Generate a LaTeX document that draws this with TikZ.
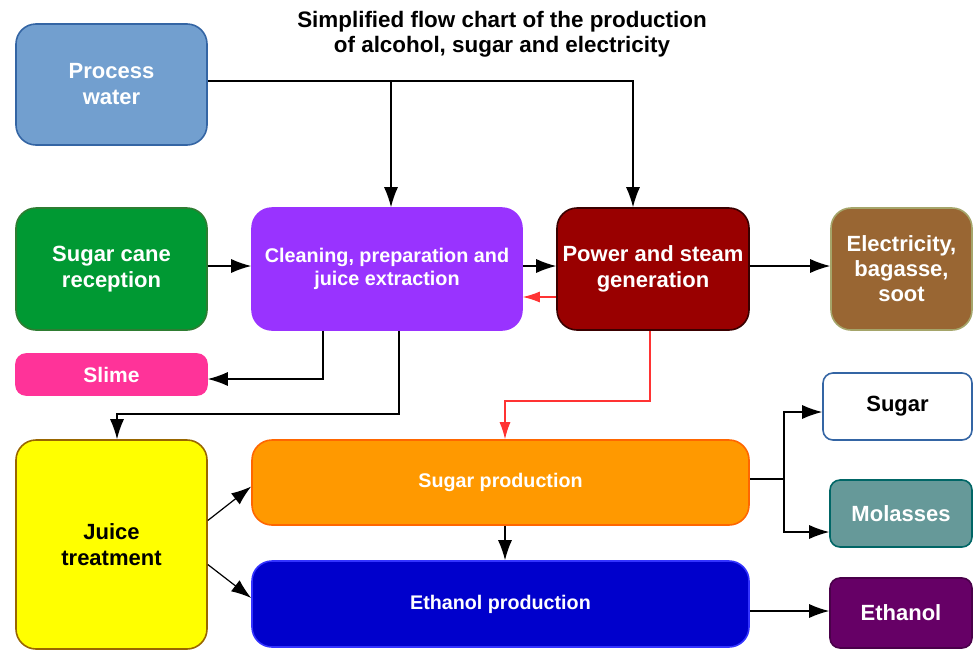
\documentclass[tikz,border=0pt]{standalone}
\usepackage{fontspec}
\setmainfont{Liberation Sans}
\usetikzlibrary{arrows.meta,calc}
\definecolor{pwfill}{HTML}{729FCF}
\definecolor{pwdraw}{HTML}{3465A4}
\definecolor{scfill}{HTML}{009933}
\definecolor{scdraw}{HTML}{2E7D32}
\definecolor{clfill}{HTML}{9933FF}
\definecolor{pofill}{HTML}{990000}
\definecolor{podraw}{HTML}{3A0000}
\definecolor{elfill}{HTML}{996633}
\definecolor{eldraw}{HTML}{A5A56A}
\definecolor{slfill}{HTML}{FF3399}
\definecolor{jufill}{HTML}{FFFF00}
\definecolor{judraw}{HTML}{996600}
\definecolor{spfill}{HTML}{FF9900}
\definecolor{spdraw}{HTML}{FF6600}
\definecolor{epfill}{HTML}{0000CC}
\definecolor{epdraw}{HTML}{3333FF}
\definecolor{mofill}{HTML}{669999}
\definecolor{modraw}{HTML}{006666}
\definecolor{etfill}{HTML}{660066}
\definecolor{etdraw}{HTML}{4A004A}
\definecolor{redline}{HTML}{FF3333}
\tikzset{
  box/.style={rounded corners=20pt, line width=1.6pt, inner sep=0pt, align=center,
    text=white, font=\bfseries\fontsize{22}{26}\selectfont},
  sbox/.style={box, rounded corners=10pt},
  arr/.style={line width=1.2pt, -{Latex[length=20pt,width=14pt]}},
  rarr/.style={line width=1.2pt, draw=redline, -{Latex[length=17pt,width=11pt]}},
}
\begin{document}
\begin{tikzpicture}[x=1pt,y=-1pt]
\useasboundingbox (0,0) rectangle (973,651);
\node (title) at (502,34) [align=center, font=\bfseries\fontsize{22.4}{25}\selectfont]
  {Simplified flow chart of the production\\of alcohol, sugar and electricity};
\node (pw) at (111.5,84.5) [box, fill=pwfill, draw=pwdraw, minimum width=191pt, minimum height=121pt] {Process\\water};
\node (sc) at (111.5,269) [box, fill=scfill, draw=scdraw, minimum width=191pt, minimum height=122pt] {Sugar cane\\reception};
\node (clean) at (387,269) [box, fill=clfill, draw=clfill, minimum width=270pt, minimum height=122pt, font=\bfseries\fontsize{19.8}{23}\selectfont] {Cleaning, preparation and\\juice extraction};
\node (pow) at (653,269) [box, fill=pofill, draw=podraw, minimum width=192pt, minimum height=122pt] {Power and steam\\generation};
\node (elec) at (901.5,269) [box, fill=elfill, draw=eldraw, minimum width=141pt, minimum height=122pt, font=\bfseries\fontsize{22}{25}\selectfont] {Electricity,\\bagasse,\\soot};
\node (slime) at (111.5,374.5) [sbox, fill=slfill, draw=slfill, minimum width=191pt, minimum height=41pt, font=\bfseries\fontsize{21}{25}\selectfont] {Slime};
\node (juice) at (111.5,544.5) [box, fill=jufill, draw=judraw, minimum width=191pt, minimum height=209pt, text=black] {Juice\\treatment};
\node (sp) at (500.5,482.5) [box, fill=spfill, draw=spdraw, minimum width=497pt, minimum height=85pt, font=\bfseries\fontsize{19.7}{24}\selectfont] {Sugar production};
\node (ep) at (500.5,604) [box, fill=epfill, draw=epdraw, minimum width=497pt, minimum height=86pt, font=\bfseries\fontsize{19.7}{24}\selectfont] {Ethanol production};
\node (sugar) at (897.5,406.5) [sbox, fill=white, draw=pwdraw, minimum width=149pt, minimum height=67pt, text=black] {Sugar};
\node (mol) at (901,513.5) [sbox, fill=mofill, draw=modraw, minimum width=142pt, minimum height=67pt] {Molasses};
\node (eth) at (901,613) [sbox, fill=etfill, draw=etdraw, minimum width=142pt, minimum height=70pt] {Ethanol};
% junction coordinates
\coordinate (j1) at (391,81);
\coordinate (j2) at (633,81);
\coordinate (r1) at (540,297);
\coordinate (s1) at (323,379);
\coordinate (s2) at (399,414);
\coordinate (s3) at (117,414);
\coordinate (r2) at (650,401);
\coordinate (r3) at (505,401);
\coordinate (b) at (784,479);
\coordinate (b1) at (784,412);
\coordinate (b2) at (784,532);
\coordinate (e1) at (790,611);
\coordinate (h1) at (500,266);
% connectors
\draw[arr] (pw.east |- j2) -- (j2) -- (j2 |- pow.north);
\draw[arr] (j1) -- (j1 |- clean.north);
\draw[arr] (sc.east |- h1) -- (clean.west |- h1);
\draw[arr] (clean.east |- h1) -- (pow.west |- h1);
\draw[arr] (pow.east |- h1) -- (elec.west |- h1);
\draw[rarr] (pow.west |- r1) -- (clean.east |- r1);
\draw[arr] (s1 |- clean.south) -- (s1) -- (s1 -| slime.east);
\draw[arr] (s2 |- clean.south) -- (s2) -- (s3) -- (s3 |- juice.north);
\draw[rarr] (r2 |- pow.south) -- (r2) -- (r3) -- (r3 |- sp.north);
\draw[arr] (r3 |- sp.south) -- (r3 |- ep.north);
\draw[arr] ($(juice.east)+(0,-24)$) -- ($(sp.west)+(0,4)$);
\draw[arr] ($(juice.east)+(0,20)$) -- ($(ep.west)+(0,-6)$);
\draw[line width=1.2pt] (sp.east |- b) -- (b);
\draw[arr] (b) -- (b1) -- (b1 -| sugar.west);
\draw[arr] (b) -- (b2) -- (b2 -| mol.west);
\draw[arr] (e1 -| ep.east) -- (e1 -| eth.west);
\end{tikzpicture}
\end{document}
